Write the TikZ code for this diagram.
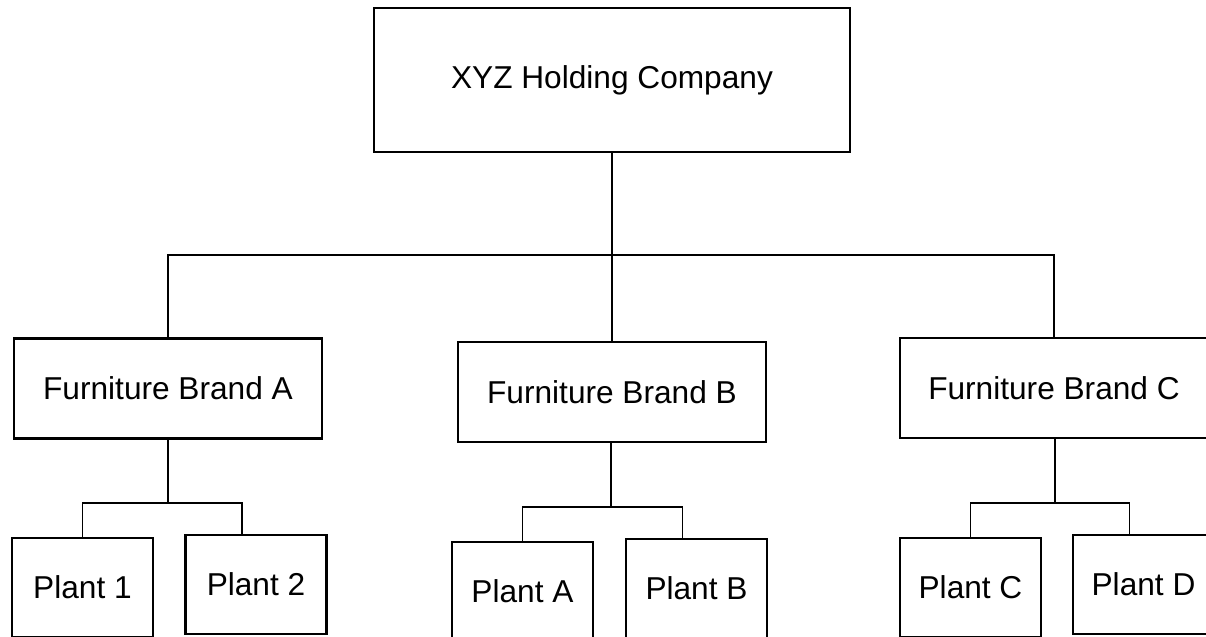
\documentclass[tikz,border=0pt]{standalone}
\usepackage{fontspec}
\setmainfont{Liberation Sans}
\usepackage{tikz}
\usetikzlibrary{positioning, calc}

\begin{document}
\begin{tikzpicture}[
        x=0.025cm, y=-0.025cm,
        % Define the common box look
        orgbox/.style={
            draw,
            line width=1.6pt,
            inner sep=0pt,
            font=\fontsize{22.5}{27}\selectfont
        },
        brandbox/.style={
            orgbox,
            minimum width=7.7cm,
            minimum height=2.5cm
        },
        plantbox/.style={
            orgbox,
            minimum width=3.525cm,
            minimum height=2.475cm
        },
        link/.style={line width=1.4pt}
    ]

    \useasboundingbox (0,0) rectangle (1206,637);

    % ==========================================
    % HOLDING COMPANY
    % ==========================================
    \node[orgbox, minimum width=11.9cm, minimum height=3.6cm] (top) at (612,80) {XYZ Holding Company};

    % ==========================================
    % BRANDS
    % ==========================================
    \node[brandbox] (brandA) at (168,388.5) {Furniture Brand A};
    \node[brandbox] (brandB) at (612,392) {Furniture Brand B};
    \node[brandbox] (brandC) at (1054,388) {Furniture Brand C};

    % Main bus
    \coordinate (bus) at (612,255);
    \draw[link] (top.south) -- (brandB.north);
    \draw[link] (brandA.north) |- (bus) -| (brandC.north);

    % ==========================================
    % PLANTS
    % ==========================================
    \node[plantbox] (plant1) at (82.5,587.5) {Plant 1};
    \node[plantbox] (plant2) at (256,584.5) {Plant 2};

    \node[plantbox] (plantA) at (522.5,591.5) {Plant A};
    \node[plantbox] (plantB) at (696.5,588.5) {Plant B};

    \node[plantbox] (plantC) at (970.5,587.5) {Plant C};
    \node[plantbox] (plantD) at (1143.5,584.5) {Plant D};

    % Sub buses
    \coordinate (subA) at (168,503);
    \coordinate (subB) at (611,507);
    \coordinate (subC) at (1055,503);

    \draw[link] (brandA.south) -- (subA);
    \draw[link] (plant1.north) |- (subA) -| ([xshift=-0.35cm]plant2.north);

    \draw[link] (brandB.south -| subB) -- (subB);
    \draw[link] (plantA.north) |- (subB) -| ([xshift=-0.35cm]plantB.north);

    \draw[link] (brandC.south -| subC) -- (subC);
    \draw[link] (plantC.north) |- (subC) -| ([xshift=-0.35cm]plantD.north);

\end{tikzpicture}
\end{document}
